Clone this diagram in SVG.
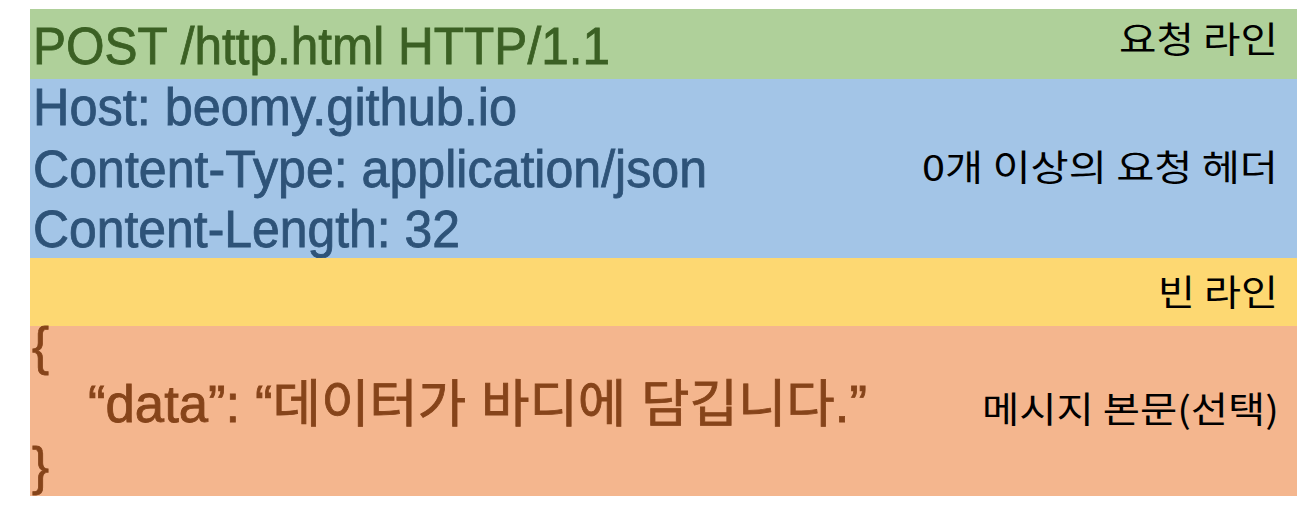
<svg xmlns="http://www.w3.org/2000/svg" width="1304" height="525" viewBox="0 0 1304 525">
<style>
.code{font-family:"Liberation Sans","Noto Sans CJK KR",Arial,sans-serif;font-size:51px;stroke-width:0.8px}
.lbl{font-family:"Noto Sans CJK KR","Liberation Sans",sans-serif;font-size:36px;fill:#000;text-anchor:end}
.g{fill:#3b6024;stroke:#3b6024}.b{fill:#2e5378;stroke:#2e5378}.o{fill:#86441a;stroke:#86441a}
</style>
<rect x="0" y="0" width="1304" height="525" fill="#ffffff"/>
<g id="request-line">
<rect x="30" y="9" width="1267" height="70" fill="#afd09a"/>
<text class="code g" x="33" y="64" textLength="577" lengthAdjust="spacingAndGlyphs">POST /http.html HTTP/1.1</text>
<text class="lbl" x="1278" y="53" textLength="159" lengthAdjust="spacingAndGlyphs">요청 라인</text>
</g>
<g id="headers">
<rect x="30" y="79" width="1267" height="179" fill="#a3c5e7"/>
<text class="code b" x="33" y="125" textLength="484" lengthAdjust="spacingAndGlyphs">Host: beomy.github.io</text>
<text class="code b" x="33" y="187" textLength="674" lengthAdjust="spacingAndGlyphs">Content-Type: application/json</text>
<text class="code b" x="33" y="247" textLength="427" lengthAdjust="spacingAndGlyphs">Content-Length: 32</text>
<text class="lbl" x="1278" y="181" textLength="356" lengthAdjust="spacingAndGlyphs">0개 이상의 요청 헤더</text>
</g>
<g id="blank-line">
<rect x="30" y="258" width="1267" height="68" fill="#fdd872"/>
<text class="lbl" x="1278" y="306" textLength="120" lengthAdjust="spacingAndGlyphs">빈 라인</text>
</g>
<g id="body">
<rect x="30" y="326" width="1267" height="170" fill="#f4b68e"/>
<text class="code o" x="32" y="364">{</text>
<text class="code o" x="88" y="422" textLength="779" lengthAdjust="spacingAndGlyphs">“data”: “데이터가 바디에 담깁니다.”</text>
<text class="code o" x="32" y="484">}</text>
<text class="lbl" x="1279" y="423" textLength="297" lengthAdjust="spacingAndGlyphs">메시지 본문(선택)</text>
</g>
<g id="connectors"/>
</svg>
